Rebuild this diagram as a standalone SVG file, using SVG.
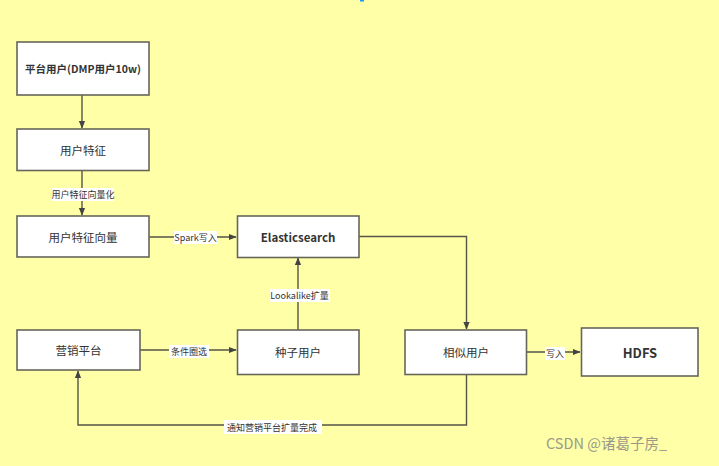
<svg xmlns="http://www.w3.org/2000/svg" width="719" height="466" viewBox="0 0 719 466">
<defs>
<style>
.box{fill:#ffffff;stroke:#666659;stroke-width:1.6}
.t{font-family:"Noto Sans CJK SC","Microsoft YaHei",sans-serif;font-size:11.5px;fill:#333;text-anchor:middle;dominant-baseline:central}
.b{font-weight:bold}
.ln{fill:none;stroke:#555548;stroke-width:1.4}
.lb{font-family:"Noto Sans CJK SC",sans-serif;font-size:9px;fill:#333;text-anchor:middle;dominant-baseline:central}
.lbg{fill:#ffffff}
</style>
<marker id="ar" viewBox="0 0 10 10" refX="9" refY="5" markerWidth="8" markerHeight="8" markerUnits="userSpaceOnUse" orient="auto">
<path d="M0,1 L10,5 L0,9 Z" fill="#444"/>
</marker>
</defs>
<rect width="719" height="466" fill="#ffffa8"/>
<rect x="360" y="0" width="4" height="1.5" fill="#1e90ff"/>

<g id="connectors">
<path class="ln" d="M82,95 V128" marker-end="url(#ar)"/>
<path class="ln" d="M82,171 V215" marker-end="url(#ar)"/>
<path class="ln" d="M149,237 H236" marker-end="url(#ar)"/>
<path class="ln" d="M298,330 V258" marker-end="url(#ar)"/>
<path class="ln" d="M140,350 H236" marker-end="url(#ar)"/>
<path class="ln" d="M359,236.5 H466.5 V329" marker-end="url(#ar)"/>
<path class="ln" d="M527,352 H580" marker-end="url(#ar)"/>
<path class="ln" d="M466.5,375 V425 H78 V371" marker-end="url(#ar)"/>
<rect class="lbg" x="52" y="188" width="62" height="13"/>
<text class="lb" x="83" y="194.5">用户特征向量化</text>
<rect class="lbg" x="174" y="231" width="43" height="13"/>
<text class="lb" x="195.5" y="237.5">Spark写入</text>
<rect class="lbg" x="270" y="289" width="60" height="13"/>
<text class="lb" x="299.5" y="295.5">Lookalike扩量</text>
<rect class="lbg" x="169" y="345" width="40" height="13"/>
<text class="lb" x="189" y="351.5">条件圈选</text>
<rect class="lbg" x="545" y="347" width="20" height="13"/>
<text class="lb" x="555" y="353.5">写入</text>
<rect class="lbg" x="224" y="420" width="98" height="14"/>
<text class="lb" x="272" y="427">通知营销平台扩量完成</text>
</g>

<g id="n1"><rect class="box" x="17" y="42" width="132" height="53"/><text class="t b" x="83" y="68.5" style="font-size:10.5px">平台用户(DMP用户10w)</text></g>
<g id="n2"><rect class="box" x="17" y="129" width="132" height="41.5"/><text class="t" x="83" y="150">用户特征</text></g>
<g id="n3"><rect class="box" x="17" y="216" width="132" height="41"/><text class="t" x="83" y="236.5">用户特征向量</text></g>
<g id="n4"><rect class="box" x="237.5" y="216" width="121.5" height="41.5"/><text class="t b" x="298" y="236.5">Elasticsearch</text></g>
<g id="n5"><rect class="box" x="17" y="330" width="123" height="40"/><text class="t" x="78.5" y="350">营销平台</text></g>
<g id="n6"><rect class="box" x="237.5" y="330" width="121.5" height="44.5"/><text class="t" x="298" y="352">种子用户</text></g>
<g id="n7"><rect class="box" x="405" y="330" width="121.5" height="44.5"/><text class="t" x="466" y="352">相似用户</text></g>
<g id="n8"><rect class="box" x="581.5" y="328" width="116.5" height="48"/><text class="t b" x="640" y="352" style="font-size:13px">HDFS</text></g>

<text x="546" y="449" style="font-family:'Noto Sans CJK SC',sans-serif;font-size:14.5px;fill:#9a9a8a">CSDN @诸葛子房_</text>
</svg>
